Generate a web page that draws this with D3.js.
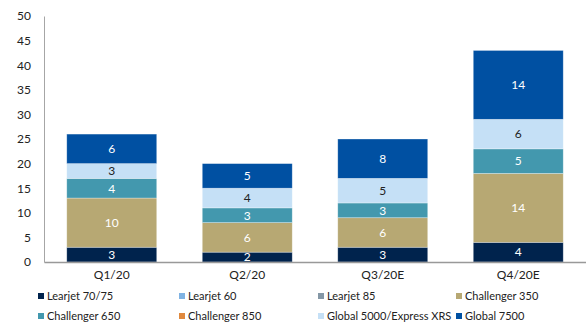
<!DOCTYPE html>
<html><head><meta charset="utf-8">
<script src="https://cdn.jsdelivr.net/npm/d3@7"></script>
<style>body{margin:0;background:#fff}svg{display:block}text{font-family:Lato,"Open Sans",sans-serif}</style>
</head><body>
<svg id="c" width="586" height="324"></svg>
<script>
const categories = ["Q1/20","Q2/20","Q3/20E","Q4/20E"];
const seriesNames = ["Learjet 70/75","Learjet 60","Learjet 85","Challenger 350","Challenger 650","Challenger 850","Global 5000/Express XRS","Global 7500"];
const learjet7075 = [3,2,3,4];
const learjet60 = [0,0,0,0];
const learjet85 = [0,0,0,0];
const challenger350 = [10,6,6,14];
const challenger650 = [4,3,3,5];
const challenger850 = [0,0,0,0];
const global5000 = [3,4,5,6];
const global7500 = [6,5,8,14];
const yTicks = [0,5,10,15,20,25,30,35,40,45,50];
const colors = ["#00234d","#7fb3e3","#8497a6","#b7a873","#4398ae","#e0893e","#c5e0f6","#0050a2"];
const labelColors = ["#fff","#fff","#fff","#fff","#fff","#fff","#222","#fff"];

const seriesValues = [learjet7075,learjet60,learjet85,challenger350,challenger650,challenger850,global5000,global7500];
const rows = categories.map((c,i)=>{const o={cat:c}; seriesNames.forEach((s,j)=>o[s]=seriesValues[j][i]); return o;});
const stacked = d3.stack().keys(seriesNames)(rows);

const svg = d3.select("#c");
const x = d3.scaleBand().domain(categories).range([44,586]).paddingInner(0.336).paddingOuter(0.168);
const y = d3.scaleLinear().domain([0,50]).range([262,16]);

// y axis
const yAxis = svg.append("g").attr("transform","translate(44,0)")
  .call(d3.axisLeft(y).tickValues(yTicks).tickSize(0).tickPadding(13));
yAxis.select(".domain").attr("stroke","#a6a6a6").attr("stroke-width",1);
yAxis.selectAll("text").attr("font-size",12).attr("fill","#222").attr("font-family","Lato,'Open Sans',sans-serif");

// bars
const g = svg.append("g");
stacked.forEach((layer,j)=>{
  layer.forEach((d,i)=>{
    const v = d[1]-d[0];
    if (v<=0) return;
    g.append("rect").attr("x",x(categories[i])).attr("width",x.bandwidth())
      .attr("y",y(d[1])).attr("height",y(d[0])-y(d[1]))
      .attr("fill",colors[j]).attr("stroke","rgba(255,255,255,0.45)").attr("stroke-width",0.7);
    g.append("text").attr("x",x(categories[i])+x.bandwidth()/2).attr("y",(y(d[0])+y(d[1]))/2)
      .attr("dy","0.36em").attr("text-anchor","middle").attr("font-size",12)
      .attr("fill",labelColors[j]).text(v);
  });
});

// x axis
const xAxis = svg.append("g").attr("transform","translate(0,262)")
  .call(d3.axisBottom(x).tickSize(0).tickPadding(8));
xAxis.select(".domain").attr("stroke","#999").attr("stroke-width",1.5);
xAxis.selectAll("text").attr("font-size",12).attr("fill","#222").attr("font-family","Lato,'Open Sans',sans-serif");

// legend
const legX = [38,179,318,456];
const legY = [296,316];
seriesNames.forEach((s,j)=>{
  const lx = legX[j%4], ly = legY[Math.floor(j/4)];
  svg.append("rect").attr("x",lx).attr("y",ly-3).attr("width",6).attr("height",6).attr("fill",colors[j]);
  svg.append("text").attr("x",lx+9).attr("y",ly).attr("dy","0.35em").attr("font-size",11).attr("fill","#222").text(s);
});
</script>
</body></html>
